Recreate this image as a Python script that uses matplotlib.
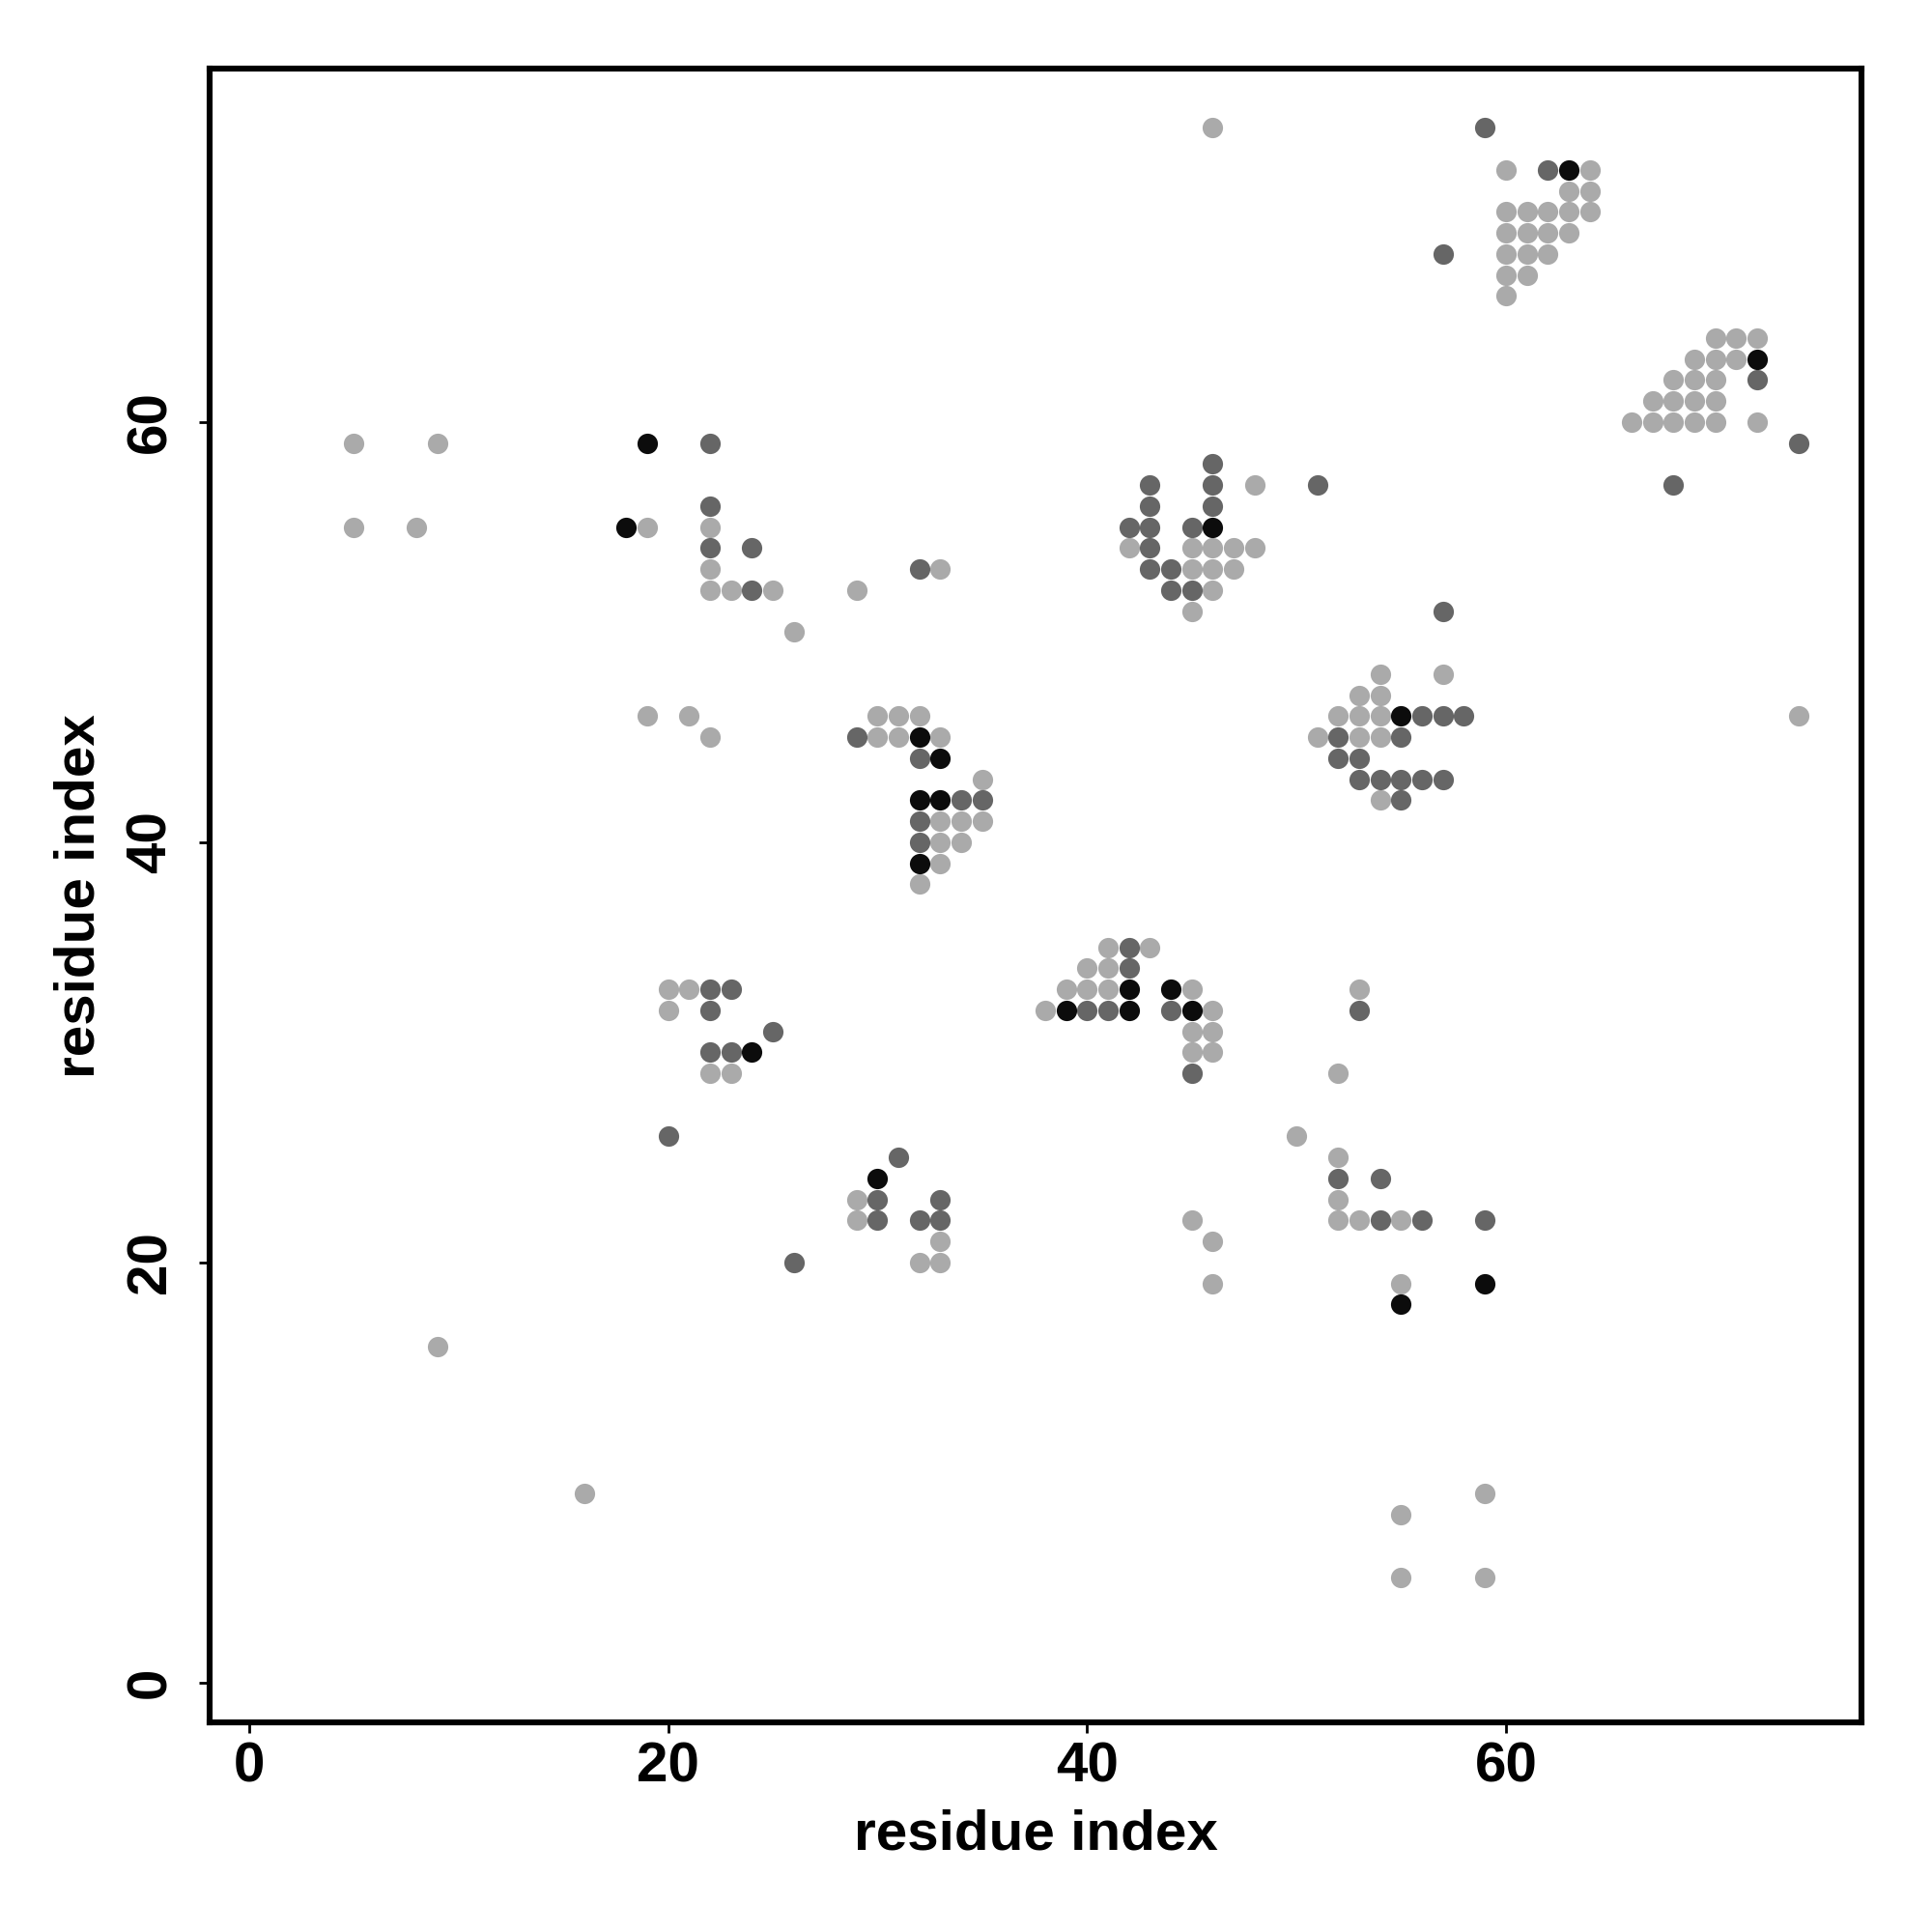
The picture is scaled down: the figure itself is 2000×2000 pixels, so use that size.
import matplotlib
matplotlib.use('Agg')
import matplotlib.pyplot as plt

plt.rcParams['font.family'] = ['Liberation Sans', 'DejaVu Sans']
plt.rcParams['font.weight'] = 'bold'

# contacts (residue i, residue j), grouped by shade
weak_contacts = [
    (5, 59), (9, 59), (5, 55), (8, 55), (19, 55), (22, 55), (22, 53), (22, 52),
    (23, 52), (25, 52), (29, 52), (26, 50), (33, 53),
    (46, 74), (48, 57), (42, 54), (45, 54), (46, 54), (47, 54), (48, 54),
    (45, 53), (46, 53), (47, 53), (46, 52), (45, 51),
    (60, 72), (64, 72), (63, 71), (64, 71), (60, 70), (61, 70), (62, 70), (63, 70),
    (64, 70), (60, 69), (61, 69), (62, 69), (63, 69), (60, 68), (61, 68), (62, 68),
    (60, 67), (61, 67), (60, 66),
    (70, 64), (71, 64), (72, 64), (69, 63), (70, 63), (71, 63), (68, 62), (69, 62),
    (70, 62), (67, 61), (68, 61), (69, 61), (70, 61), (66, 60), (67, 60), (68, 60),
    (69, 60), (70, 60), (72, 60),
    (19, 46), (21, 46), (22, 45), (20, 33), (21, 33), (20, 32), (22, 29), (23, 29),
    (30, 46), (31, 46), (32, 46), (30, 45), (31, 45), (33, 45), (35, 43), (33, 41),
    (34, 41), (35, 41), (33, 40), (34, 40), (33, 39), (32, 38),
    (41, 35), (43, 35), (40, 34), (41, 34), (39, 33), (40, 33), (41, 33), (45, 33),
    (38, 32), (46, 32), (45, 31), (46, 31), (45, 30), (46, 30),
    (50, 26),
    (54, 48), (57, 48), (53, 47), (54, 47), (52, 46), (53, 46), (54, 46), (74, 46),
    (51, 45), (53, 45), (54, 45), (54, 42),
    (53, 33), (52, 29), (52, 25),
    (9, 16), (16, 9),
    (29, 23), (29, 22), (45, 22), (33, 21), (46, 21), (32, 20), (33, 20), (46, 19),
    (52, 23), (52, 22), (53, 22), (55, 22), (55, 19), (59, 9), (55, 8), (55, 5), (59, 5),
]

medium_contacts = [
    (22, 59), (22, 56), (22, 54), (24, 54), (24, 52), (32, 53),
    (46, 58), (43, 57), (46, 57), (51, 57), (43, 56), (46, 56), (42, 55), (43, 55),
    (45, 55), (43, 54), (43, 53), (44, 53), (44, 52), (45, 52),
    (59, 74), (62, 72), (57, 68), (72, 62), (74, 59), (68, 57), (57, 51),
    (22, 33), (23, 33), (22, 32), (22, 30), (23, 30), (20, 26), (25, 31),
    (29, 45), (32, 44), (34, 42), (35, 42), (32, 41), (32, 40),
    (42, 35), (42, 34), (40, 32), (41, 32), (44, 32), (45, 29),
    (31, 25),
    (56, 46), (57, 46), (58, 46), (52, 45), (55, 45), (52, 44), (53, 44), (53, 43),
    (54, 43), (55, 43), (56, 43), (57, 43), (55, 42),
    (53, 32),
    (30, 23), (33, 23), (30, 22), (32, 22), (33, 22), (26, 20),
    (52, 24), (54, 24), (54, 22), (56, 22), (59, 22),
]

strong_contacts = [
    (19, 59), (18, 55), (46, 55), (63, 72), (72, 63), (24, 30),
    (32, 45), (33, 44), (32, 42), (33, 42), (32, 39),
    (42, 33), (44, 33), (39, 32), (42, 32), (45, 32),
    (55, 46), (30, 24), (59, 19), (55, 18),
]

shades = ['#aaaaaa', '#666666', '#0c0c0c']
tick_values = [0, 20, 40, 60]

fig = plt.figure(figsize=(10, 10), dpi=200)
ax = fig.add_axes([0.1084, 0.1084, 0.8553, 0.8559])

for contacts, shade in zip([weak_contacts, medium_contacts, strong_contacts], shades):
    xs = [c[0] for c in contacts]
    ys = [c[1] for c in contacts]
    ax.scatter(xs, ys, s=58, c=shade, linewidths=0, zorder=3)

ax.set_xlim(-1.9, 77.0)
ax.set_ylim(-1.9, 76.8)
ax.set_xticks(tick_values)
ax.set_yticks(tick_values)

for spine in ax.spines.values():
    spine.set_linewidth(2.2)

ax.tick_params(axis='both', direction='out', length=4, width=1.0,
               labelsize=21, colors='black')
ax.tick_params(axis='x', pad=3)
ax.tick_params(axis='y', pad=8, labelrotation=90)
for lab in ax.get_yticklabels():
    lab.set_verticalalignment('center')
for lab in ax.get_xticklabels() + ax.get_yticklabels():
    lab.set_fontweight('bold')

ax.set_xlabel('residue index', fontsize=21, fontweight='bold')
ax.set_ylabel('residue index', fontsize=21, fontweight='bold')
ax.xaxis.set_label_coords(0.5, -0.052)
ax.yaxis.set_label_coords(-0.063, 0.5)

fig.savefig('out.png', dpi=200, facecolor='white')
plt.close(fig)
